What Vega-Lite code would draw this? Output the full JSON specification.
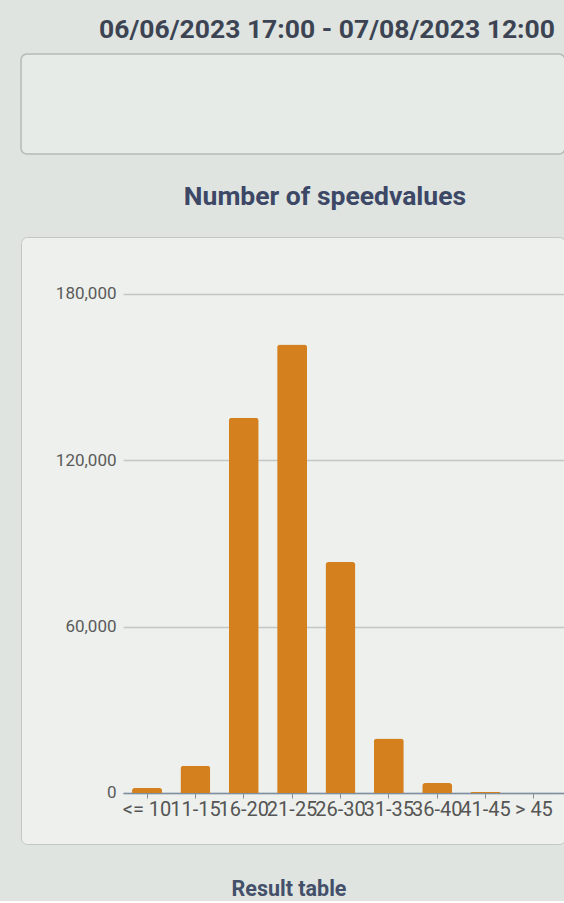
{
  "$schema": "https://vega.github.io/schema/vega-lite/v6.json",
  "background": "#dfe4e0",
  "padding": {"top": 15, "left": 20, "right": 0, "bottom": 0},
  "data": {"values": [
    {"range": "<= 10", "count": 1800},
    {"range": "11-15", "count": 9800},
    {"range": "16-20", "count": 135400},
    {"range": "21-25", "count": 161800},
    {"range": "26-30", "count": 83300},
    {"range": "31-35", "count": 19700},
    {"range": "36-40", "count": 3600},
    {"range": "41-45", "count": 400},
    {"range": "> 45", "count": 60}
  ]},
  "config": {
    "font": "Roboto",
    "concat": {"spacing": 28}
  },
  "vconcat": [
    {
      "title": {"text": "06/06/2023 17:00 - 07/08/2023 12:00", "font": "Roboto", "fontSize": 26.5, "fontWeight": "bold", "color": "#3c4453", "dx": 34, "offset": 11, "baseline": "top"},
      "data": {"values": []},
      "width": 544,
      "height": 100,
      "view": {"fill": "#e7ebe8", "stroke": "#b5bab7", "strokeWidth": 1.5, "cornerRadius": 6},
      "mark": {"type": "rect"},
      "encoding": {}
    },
    {
      "title": {"text": "Number of speedvalues", "font": "Roboto", "fontSize": 26.5, "fontWeight": "bold", "color": "#3d4766", "dx": 32, "offset": 27, "baseline": "top"},
      "width": 544,
      "height": 607,
      "view": {"fill": "#edf0ec", "stroke": "#c2c7c3", "strokeWidth": 1, "cornerRadius": 6},
      "mark": {"type": "bar", "color": "#d4801e", "cornerRadiusTopLeft": 3, "cornerRadiusTopRight": 3},
      "encoding": {
        "x": {
          "field": "range", "type": "nominal", "sort": null,
          "scale": {"range": [102, 544], "paddingInner": 0.38, "paddingOuter": 0.26, "align": 0.36},
          "axis": {"title": null, "offset": -51, "labelAngle": 0, "labelFont": "Roboto", "labelFontSize": 20, "labelColor": "#555555", "labelOverlap": false, "labelLimit": 0, "labelFlush": false, "tickSize": 5, "tickColor": "#8a8f95", "labelPadding": 1, "domainColor": "#7f8ea3", "domainWidth": 1.5, "grid": false}
        },
        "y": {
          "field": "count", "type": "quantitative",
          "scale": {"domain": [-18397, 200561], "nice": false, "zero": false},
          "axis": {"title": null, "offset": -102, "values": [0, 60000, 120000, 180000], "format": ",.0f", "domain": false, "ticks": false, "labelPadding": 7, "labelFont": "Roboto", "labelFontSize": 17, "labelColor": "#5a5a5a", "grid": true, "gridColor": "#c4c6c4", "gridWidth": 1.5}
        }
      }
    },
    {
      "title": {"text": "Result table", "orient": "bottom", "font": "Roboto", "fontSize": 21.5, "fontWeight": "bold", "color": "#44506a", "dx": -4, "offset": 5, "baseline": "top"},
      "data": {"values": []},
      "width": 544,
      "height": 1,
      "view": {"stroke": null},
      "mark": {"type": "rect"},
      "encoding": {}
    }
  ]
}
